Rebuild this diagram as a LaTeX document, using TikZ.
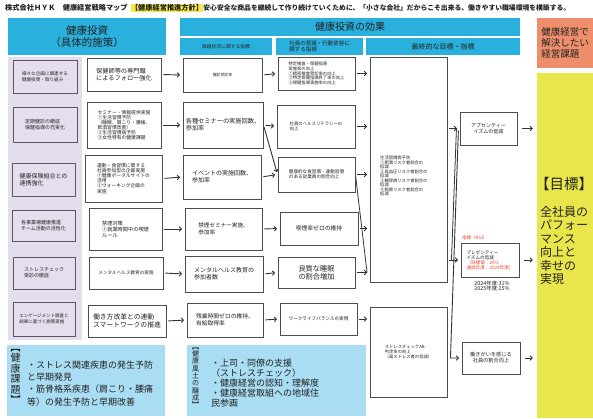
\documentclass[tikz,border=0pt]{standalone}
\usepackage{fontspec}
\setmainfont{Noto Sans CJK JP}
\usetikzlibrary{arrows.meta}
\definecolor{cyh}{HTML}{2AB0DD}
\definecolor{lblue}{HTML}{A9DDF3}
\definecolor{lavbg}{HTML}{E4DDED}
\definecolor{lavbox}{HTML}{E6DEEF}
\definecolor{lavdr}{HTML}{5F5560}
\definecolor{orng}{HTML}{EE8E6A}
\definecolor{yelw}{HTML}{E9E64B}
\definecolor{tyel}{HTML}{F3EA4A}
\definecolor{bxc}{HTML}{4D4D4D}
\definecolor{arc}{HTML}{333333}
\definecolor{txc}{HTML}{222222}
\definecolor{redt}{HTML}{E8412C}
\newcommand\fsz[2]{\fontsize{#1pt}{#2pt}\selectfont}
\begin{document}
\begin{tikzpicture}[x=1pt,y=-1pt,
  wh/.style 2 args={minimum width=#1pt, minimum height=#2pt},
  wbox/.style={draw=bxc, line width=0.9pt, fill=white, inner sep=1pt, align=left, text=txc},
  lbox/.style={draw=lavdr, line width=0.9pt, fill=lavbox, inner sep=1pt, align=left, text=txc},
  hdr/.style={fill=cyh, inner sep=1pt, align=center, text=txc},
  plain/.style={inner sep=0pt, text=txc},
  arr/.style={draw=arc, line width=0.9pt, -{Straight Barb[length=2.2pt,width=4.6pt]}, shorten <=2pt, shorten >=2.5pt},
  ln/.style={draw=arc, line width=0.8pt}]
\useasboundingbox (0,0) rectangle (593,418);
\fill[white] (0,0) rectangle (593,418);

% title line
\node[plain, anchor=west, font={\bfseries\fsz{7.2}{9}}] (title) at (5,8) {株式会社ＨＹＫ　健康経営戦略マップ};
\node[plain, anchor=west, fill=tyel, font={\bfseries\fsz{7.2}{9}}, inner ysep=1pt] (policy) at ([xshift=3pt]title.east) {【健康経営推進方針】};
\node[plain, anchor=west, font={\bfseries\fsz{6.8}{9}}] (policytxt) at (policy.east) {安心安全な商品を継続して作り続けていくために、「小さな会社」だからこそ出来る、働きやすい職場環境を構築する。};

% headers
\node[hdr, wh={158}{37}, font={\fsz{10.5}{12.5}}] (hA) at (87,36.5) {健康投資\\（具体的施策）};
\node[hdr, wh={340}{18}, font={\fsz{10}{12}}] (hB) at (350,27) {健康投資の効果};
\node[hdr, wh={92}{17}, font={\fsz{4.8}{6}}] (hB1) at (226,46.5) {取組状況に関する指標};
\node[hdr, wh={87}{17}, font={\fsz{5.5}{6.5}}, align=left] (hB2) at (319.5,46.5) {社員の意識・行動変容に\\関する指標};
\node[hdr, wh={154}{17}, font={\fsz{7}{8}}] (hB3) at (443,46.5) {最終的な目標・指標};
\node[fill=orng, wh={56}{50}, inner sep=1pt, align=left, text=txc, font={\fsz{9.5}{11}}] (O) at (565,43) {健康経営で\\解決したい\\経営課題};
\node[fill=yelw, wh={56}{345}, inner sep=0pt] (Y) at (565,245.5) {};
\node[plain, anchor=north west, font={\fsz{14.5}{16}}] (goal) at (535,177) {【目標】};
\node[plain, anchor=north west, align=left, font={\fsz{12}{13.5}}] (goaltxt) at (540,206) {全社員の\\パフォー\\マンス\\向上と\\幸せの\\実現};

% left lavender column
\node[fill=lavbg, wh={74}{283}, inner sep=0pt] (LV) at (45,198.5) {};
\node[lbox, wh={64}{33}, font={\fsz{4.6}{5.6}}] (L1) at (45,76.5) {様々な企画に関連する\\健康投資・取り組み};
\node[lbox, wh={64}{35}, font={\fsz{5}{6}}] (L2) at (45,124.5) {定期健診の徹底\\保健指導の充実化};
\node[lbox, wh={63}{33}, font={\fsz{6}{7}}] (L3) at (43.5,179.5) {健康保険組合との\\連携強化};
\node[lbox, wh={63}{31}, font={\fsz{5}{6}}] (L4) at (43.5,225.5) {各事業場健康推進\\チーム活動の活性化};
\node[lbox, wh={62}{32}, font={\fsz{5}{6}}] (L5) at (44,273) {ストレスチェック\\受診の徹底};
\node[lbox, wh={62}{34}, font={\fsz{4.5}{5.5}}] (L6) at (44,319) {エンゲージメント調査と\\結果に基づく施策実施};

% measures
\node[wbox, wh={74}{33}, font={\fsz{6.2}{7.5}}] (R1) at (124,74.5) {保健師等の専門職\\によるフォロー強化};
\node[wbox, wh={74}{46}, font={\fsz{4.8}{5.1}}] (R2) at (124,125) {セミナー・情報提供実施\\①生活習慣予防\\（睡眠、肩こり・腰痛、\\飲酒習慣改善）\\②生活習慣病予防\\③女性特有の健康課題};
\node[wbox, wh={77}{47}, font={\fsz{4.8}{5.1}}] (R3) at (123.5,178.5) {運動・食習慣に関する\\社員参加型の企画実施\\①健康ポータルサイトの\\活用\\②ウォーキング企画の\\実施};
\node[wbox, wh={73}{42}, font={\fsz{5.2}{6}}] (R4) at (125.5,229) {禁煙対策\\①就業時間中の喫煙\\ルール};
\node[wbox, wh={74}{32}, font={\fsz{4.6}{5.5}}] (R5) at (126,273) {メンタルヘルス教育の実施};
\node[wbox, wh={78}{32}, font={\fsz{6.8}{7.8}}] (R6) at (127,321) {働き方改革との連動\\スマートワークの推進};

% column 2
\node[wbox, wh={79}{34}, font={\fsz{3.9}{5}}] (C1) at (222.5,75) {健診受診率};
\node[wbox, wh={80}{46}, font={\fsz{6.2}{7.2}}] (C2) at (223,125) {各種セミナーの実施回数、\\参加率};
\node[wbox, wh={78}{44}, font={\fsz{6}{7}}] (C3) at (222,177) {イベントの実施回数、\\参加率};
\node[wbox, wh={77}{42}, font={\fsz{5.6}{6.6}}] (C4) at (223.5,229) {禁煙セミナー実施、\\参加率};
\node[wbox, wh={78}{36}, font={\fsz{6}{7}}] (C5) at (224,274) {メンタルヘルス教育の\\参加者数};
\node[wbox, wh={76}{34}, font={\fsz{5.8}{6.8}}] (C6) at (225,320) {残業時間ゼロの維持、\\有給取得率};

% column 3
\node[wbox, wh={77}{33}, font={\fsz{4.3}{4.7}}] (D1) at (316.5,73.5) {特定検査・保健指導\\実施率の向上\\①精密検査受診率の向上\\②特定保健指導終了率の向上\\③保健指導実施率の向上};
\node[wbox, wh={78}{43}, font={\fsz{4.4}{5.4}}] (D2) at (316,126.5) {社員のヘルスリテラシーの\\向上};
\node[wbox, wh={77}{35}, font={\fsz{4.6}{5.4}}] (D3) at (316.5,174.5) {健康的な食習慣・運動習慣\\のある従業員の割合向上};
\node[wbox, wh={78}{33}, font={\fsz{5.8}{7}}] (D4) at (319,228.5) {喫煙率ゼロの維持};
\node[wbox, wh={77}{31}, font={\fsz{7.2}{8.2}}, align=center] (D5) at (316.5,272.5) {良質な睡眠\\の割合増加};
\node[wbox, wh={77}{32}, font={\fsz{4.6}{5.5}}] (D6) at (318.5,319) {ワークライフバランスの実現};

% column 4
\node[wbox, wh={77}{225}] (E1) at (408.5,169.5) {};
\node[plain, anchor=north west, align=left, font={\fsz{4.3}{4.5}}] (E1t) at (380,156) {生活習慣病予防\\①肥満リスク者割合の\\低減\\②高血圧リスク者割合の\\低減\\③糖尿病リスク者割合の\\低減\\④脂質リスク者割合の\\低減};
\node[wbox, wh={77}{90}, font={\fsz{4.3}{5.2}}] (E2) at (408.5,352) {ストレスチェックAB\\判定率の向上\\（高ストレス者の低減）};

% column 5
\node[wbox, wh={57}{33}, font={\fsz{5}{5.6}}, align=center] (F1) at (488.5,128.5) {アブセンティー\\イズムの低減};
\node[wbox, wh={58}{34}, font={\fsz{4.6}{5.1}}] (F2) at (490,260) {プレゼンティー\\イズムの低減\\{\color{redt}（目標値：20\%}\\{\color{redt}達成年度：2029年度）}};
\node[plain, anchor=west, text=redt, font={\fsz{4.5}{5}}] (kgi) at (462,238) {指標（KGI）};
\node[plain, align=center, font={\fsz{5.4}{5.8}}] (res) at (492,286) {2024年度:31\%\\2025年度:25\%};
\node[wbox, wh={58}{32}, font={\fsz{5.2}{6}}, align=center] (F3) at (491,358) {働きがいを感じる\\社員の割合向上};

% bottom boxes
\node[fill=lblue, wh={158}{71}, inner sep=0pt] (G1) at (86,380.5) {};
\node[plain, anchor=north, align=center, font={\fsz{10}{10.5}}] (G1v) at (15.5,349) {︻\\健\\康\\課\\題\\︼};
\node[plain, anchor=north west, align=left, font={\fsz{9}{12.3}}] (G1t) at (27,360.5) {・ストレス関連疾患の発生予防\\と早期発見\\・筋骨格系疾患（肩こり・腰痛\\等）の発生予防と早期改善};
\node[fill=lblue, wh={179}{71}, inner sep=0pt] (G2) at (276.5,380.5) {};
\node[plain, anchor=north, align=center, font={\fsz{7}{7.3}}] (G2v) at (195.5,347.5) {︻\\健\\康\\風\\土\\の\\醸\\成\\︼};
\node[plain, anchor=north west, align=left, font={\fsz{9}{10}}] (G2t) at (211,358.5) {・上司・同僚の支援\\（ストレスチェック）\\・健康経営の認知・理解度\\・健康経営取組への地域住\\民参画};

% connectors stage 1
\foreach \a/\b in {R1/C1,R2/C2,R3/C3,R4/C4,R5/C5,R6/C6,C1/D1,C2/D2,C3/D3,C4/D4,C5/D5,C6/D6}
  \draw[arr] (\a.east) -- (\b.west);
\draw[arr] (C2.east) -- (D3.west);
\foreach \a in {D1,D2,D3,D4,D5}
  \draw[arr] (\a.east) -- (\a.east -| E1.west);
\draw[ln, shorten <=2pt] (D3.east) -- ([xshift=-2.5pt]E1.west |- D5.east);
\draw[arr] (D6.east) -- (D6.east -| E2.west);
\draw[arr] (E1.east |- F1.west) -- (F1.west);
\draw[arr] (E1.east |- F2.west) -- (F2.west);
\draw[ln] ([xshift=9pt]E1.east |- F1.west) -- ([xshift=4pt]E1.east |- F2.west);
\draw[arr] ([xshift=11pt]E1.east |- F1.west) -- ([xshift=3pt]E1.east |- F3.west) -- (F3.west);
\foreach \a in {F1,F2,F3}
  \draw[arr, shorten <=5pt, shorten >=4pt] (\a.east) -- (\a.east -| Y.west);
\end{tikzpicture}
\end{document}
